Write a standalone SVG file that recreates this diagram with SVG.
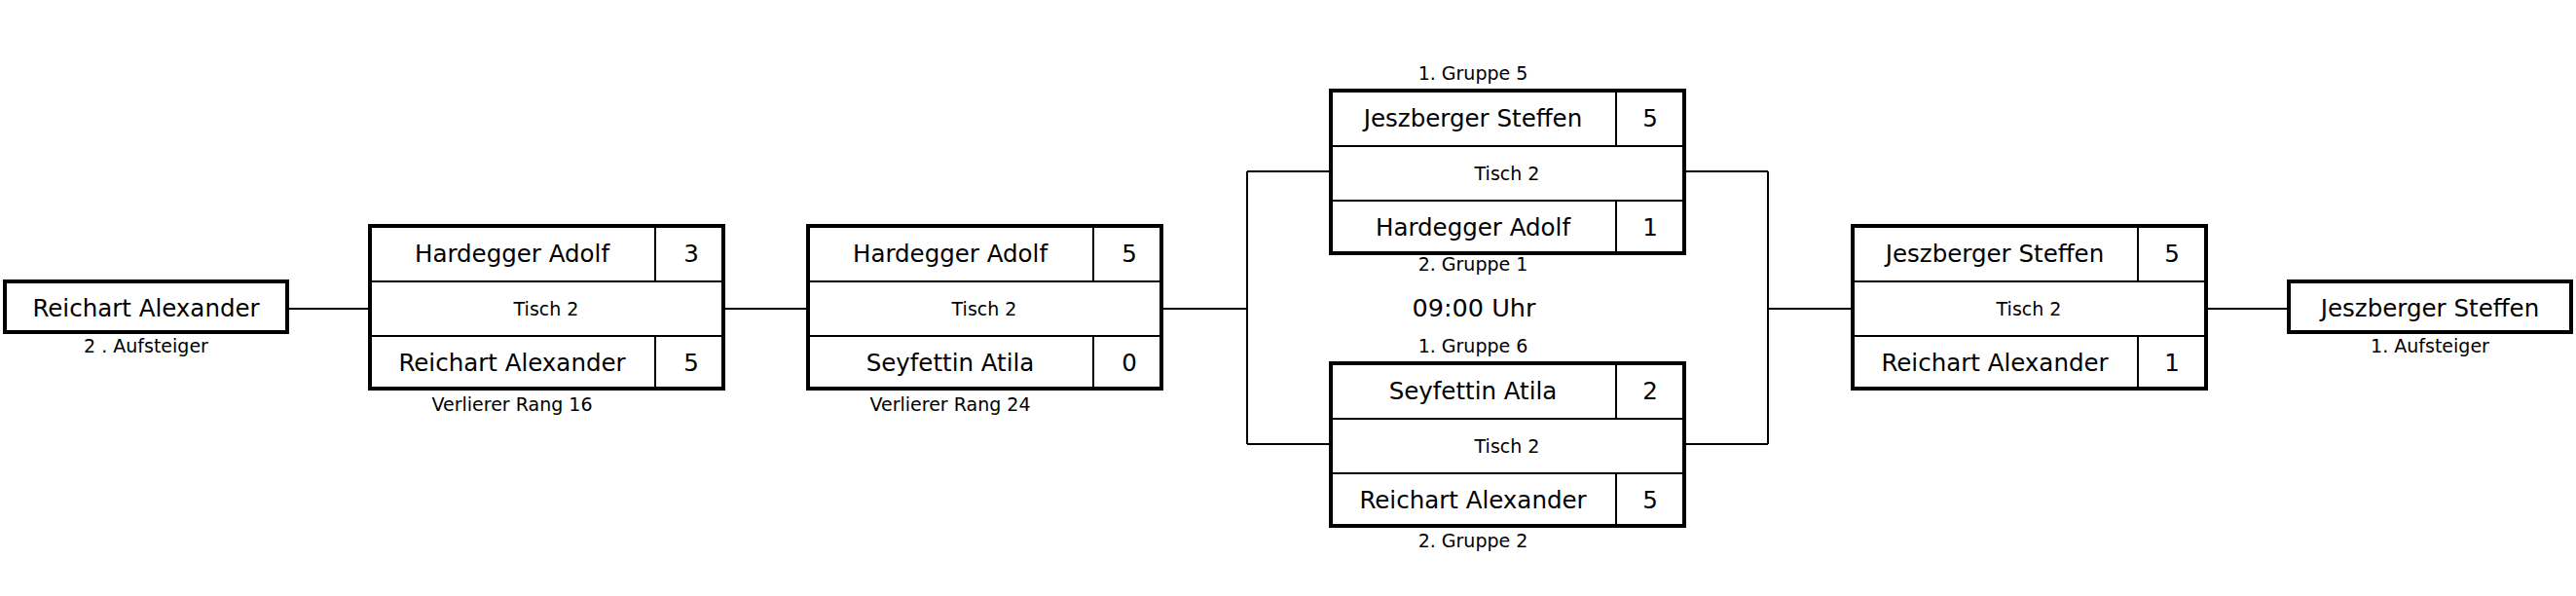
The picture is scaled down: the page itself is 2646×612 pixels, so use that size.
<svg xmlns="http://www.w3.org/2000/svg" width="2646" height="612" viewBox="0 0 2646 612">
<style>
.box{fill:#fff;stroke:#000;stroke-width:4}
.div{stroke:#000;stroke-width:2;fill:none}
.con{stroke:#000;stroke-width:2;fill:none}
text{font-family:"DejaVu Sans","Liberation Sans",sans-serif;fill:#000;text-anchor:middle}
.nm{font-size:24.5px}
.sm{font-size:19px}
.tm{font-size:25.5px}
</style>
<rect width="2646" height="612" fill="#fff"/>
<g id="connectors">
<path class="con" d="M297 317H378"/>
<path class="con" d="M745 317H828"/>
<path class="con" d="M1195 317H1281M1281 176V456M1281 176H1365M1281 456H1365"/>
<path class="con" d="M1732 176H1816M1732 456H1816M1816 176V456M1816 317H1901"/>
<path class="con" d="M2268 317H2349"/>
</g>
<g id="start">
<rect class="box" x="5" y="289" width="290" height="52"/>
<text class="nm" x="150" y="325">Reichart Alexander</text>
<text class="sm" x="150" y="362">2 . Aufsteiger</text>
</g>
<g id="match1">
<rect class="box" x="380" y="232" width="363" height="167"/>
<path class="div" d="M380 289H743M380 345H743M673 232V289M673 345V399"/>
<text class="nm" x="526" y="269">Hardegger Adolf</text>
<text class="nm" x="710" y="269">3</text>
<text class="sm" x="561" y="324">Tisch 2</text>
<text class="nm" x="526" y="381">Reichart Alexander</text>
<text class="nm" x="710" y="381">5</text>
<text class="sm" x="526" y="422">Verlierer Rang 16</text>
</g>
<g id="match2">
<rect class="box" x="830" y="232" width="363" height="167"/>
<path class="div" d="M830 289H1193M830 345H1193M1123 232V289M1123 345V399"/>
<text class="nm" x="976" y="269">Hardegger Adolf</text>
<text class="nm" x="1160" y="269">5</text>
<text class="sm" x="1011" y="324">Tisch 2</text>
<text class="nm" x="976" y="381">Seyfettin Atila</text>
<text class="nm" x="1160" y="381">0</text>
<text class="sm" x="976" y="422">Verlierer Rang 24</text>
</g>
<g id="semi1">
<text class="sm" x="1513" y="82">1. Gruppe 5</text>
<rect class="box" x="1367" y="93" width="363" height="167"/>
<path class="div" d="M1367 150H1730M1367 206H1730M1660 93V150M1660 206V260"/>
<text class="nm" x="1513" y="130">Jeszberger Steffen</text>
<text class="nm" x="1695" y="130">5</text>
<text class="sm" x="1548" y="185">Tisch 2</text>
<text class="nm" x="1513" y="242">Hardegger Adolf</text>
<text class="nm" x="1695" y="242">1</text>
<text class="sm" x="1513" y="278">2. Gruppe 1</text>
</g>
<g id="time">
<text class="tm" x="1514" y="325">09:00 Uhr</text>
</g>
<g id="semi2">
<text class="sm" x="1513" y="362">1. Gruppe 6</text>
<rect class="box" x="1367" y="373" width="363" height="167"/>
<path class="div" d="M1367 430H1730M1367 486H1730M1660 373V430M1660 486V540"/>
<text class="nm" x="1513" y="410">Seyfettin Atila</text>
<text class="nm" x="1695" y="410">2</text>
<text class="sm" x="1548" y="465">Tisch 2</text>
<text class="nm" x="1513" y="522">Reichart Alexander</text>
<text class="nm" x="1695" y="522">5</text>
<text class="sm" x="1513" y="562">2. Gruppe 2</text>
</g>
<g id="final">
<rect class="box" x="1903" y="232" width="363" height="167"/>
<path class="div" d="M1903 289H2266M1903 345H2266M2196 232V289M2196 345V399"/>
<text class="nm" x="2049" y="269">Jeszberger Steffen</text>
<text class="nm" x="2231" y="269">5</text>
<text class="sm" x="2084" y="324">Tisch 2</text>
<text class="nm" x="2049" y="381">Reichart Alexander</text>
<text class="nm" x="2231" y="381">1</text>
</g>
<g id="winner">
<rect class="box" x="2351" y="289" width="290" height="52"/>
<text class="nm" x="2496" y="325">Jeszberger Steffen</text>
<text class="sm" x="2496" y="362">1. Aufsteiger</text>
</g>
</svg>
